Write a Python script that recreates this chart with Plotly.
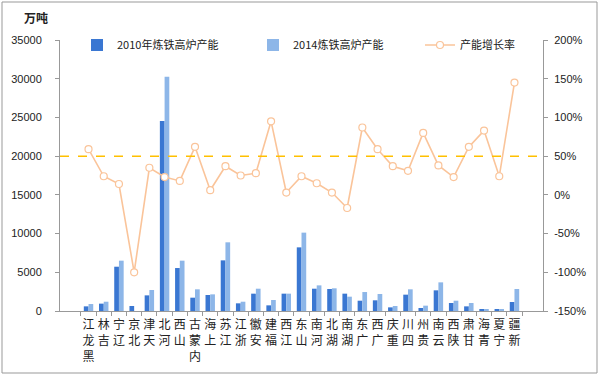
import plotly.graph_objects as go

provinces = ["黑龙江", "吉林", "辽宁", "北京", "天津", "河北", "山西", "内蒙古", "上海", "江苏",
             "浙江", "安徽", "福建", "江西", "山东", "河南", "湖北", "湖南", "广东", "广西",
             "重庆", "四川", "贵州", "云南", "陕西", "甘肃", "青海", "宁夏", "新疆"]
cap_2010 = [600, 950, 5720, 650, 2020, 24540, 5550, 1720, 2070, 6540,
            990, 2240, 730, 2240, 8220, 2880, 2840, 2240, 1330, 1380,
            470, 2110, 390, 2670, 1030, 600, 130, 170, 1160]
cap_2014 = [900, 1200, 6500, 0, 2710, 30260, 6500, 2800, 2150, 8870,
            1200, 2880, 1420, 2240, 10120, 3310, 2930, 1850, 2450, 2200,
            650, 2800, 690, 3700, 1330, 1030, 130, 170, 2840]
growth = [59, 24, 14, -100, 35, 23, 18, 62, 6, 37,
          25, 28, 95, 3, 24, 15, 3, -17, 87, 59,
          37, 31, 80, 38, 23, 62, 83, 24, 145]
left_ticks = [0, 5000, 10000, 15000, 20000, 25000, 30000, 35000]
left_labels = ["0", "5000", "10000", "15000", "20000", "25000", "30000", "35000"]
right_ticks = [-150, -100, -50, 0, 50, 100, 150, 200]
right_labels = ["-150%", "-100%", "-50%", "0%", "50%", "100%", "150%", "200%"]
ref_level = 20000

# vertical stacked labels (characters bottom-to-top)
tick_text = ["<br>".join(list(p)[::-1]) for p in provinces]

num_font = "Liberation Sans Narrow, Liberation Sans, Arial"
cjk_font = "Noto Sans CJK SC, Liberation Sans"

fig = go.Figure()
fig.add_trace(go.Bar(x=provinces, y=cap_2010, name="2010年炼铁高炉产能", legend="legend",
                     marker=dict(color="#3A77D2", line=dict(width=0))))
fig.add_trace(go.Bar(x=provinces, y=cap_2014, name="2014炼铁高炉产能", legend="legend2",
                     marker=dict(color="#8DB6E8", line=dict(width=0))))
fig.add_trace(go.Scatter(x=provinces, y=growth, name="产能增长率", yaxis="y2", legend="legend3",
                         mode="lines+markers",
                         line=dict(color="#FAC49A", width=1.6),
                         marker=dict(symbol="circle", size=7, color="white",
                                     line=dict(color="#FAC49A", width=1.2))))

L, R, T, B = 60, 57, 40, 65
pw, ph = 600 - L - R, 376 - T - B

def px(x):
    return (x - L) / pw

def py(y):
    return (376 - B - y) / ph

def leg(x0):
    return dict(orientation="h", x=px(x0), xanchor="left", y=py(45), yanchor="middle",
                bgcolor="rgba(0,0,0,0)", font=dict(size=11, family=cjk_font, color="#222"),
                itemwidth=30)

fig.update_layout(
    width=600, height=376,
    margin=dict(l=L, r=R, t=T, b=B, pad=0, autoexpand=False),
    paper_bgcolor="white", plot_bgcolor="white",
    barmode="group", bargap=0.38, bargroupgap=0,
    font=dict(family=cjk_font, size=11, color="#222"),
    showlegend=True,
    legend=leg(77), legend2=leg(253), legend3=leg(420),
    xaxis=dict(tickmode="array", tickvals=provinces, ticktext=tick_text,
               tickangle=0, showline=True, linecolor="#999", linewidth=1,
               ticks="outside", tickson="boundaries", ticklen=4, tickcolor="#999",
               ticklabelstandoff=3,
               showgrid=False, tickfont=dict(size=12, family=cjk_font, color="#222")),
    yaxis=dict(range=[0, 35000], tickvals=left_ticks, ticktext=left_labels,
               showline=True, linecolor="#999",
               linewidth=1, ticks="outside", ticklen=4, tickcolor="#999",
               ticklabelstandoff=11,
               showgrid=False, zeroline=False,
               tickfont=dict(size=11, family=num_font, color="#222")),
    yaxis2=dict(range=[-150, 200], tickvals=right_ticks, ticktext=right_labels,
                overlaying="y", side="right", showline=True, linecolor="#999",
                linewidth=1, ticks="outside", ticklen=4, tickcolor="#999",
                ticklabelstandoff=4,
                showgrid=False, zeroline=False,
                tickfont=dict(size=11, family=num_font, color="#222")),
    shapes=[
        dict(type="line", xref="paper", yref="y", x0=0, x1=1, y0=ref_level, y1=ref_level,
             line=dict(color="#FFC000", width=1.5, dash="dash")),
        dict(type="rect", xref="paper", yref="paper", x0=px(2), x1=px(597),
             y0=py(373), y1=py(2), line=dict(color="#999", width=1), layer="below"),
    ],
    annotations=[
        dict(text="<b>万吨</b>", xref="paper", yref="paper", x=px(36), y=py(18),
             xanchor="center", yanchor="middle",
             showarrow=False, font=dict(size=12, family=cjk_font, color="#222"))
    ],
)

fig.write_html("out.html", config={"displayModeBar": False},
               post_script="document.body.style.margin='0';")
